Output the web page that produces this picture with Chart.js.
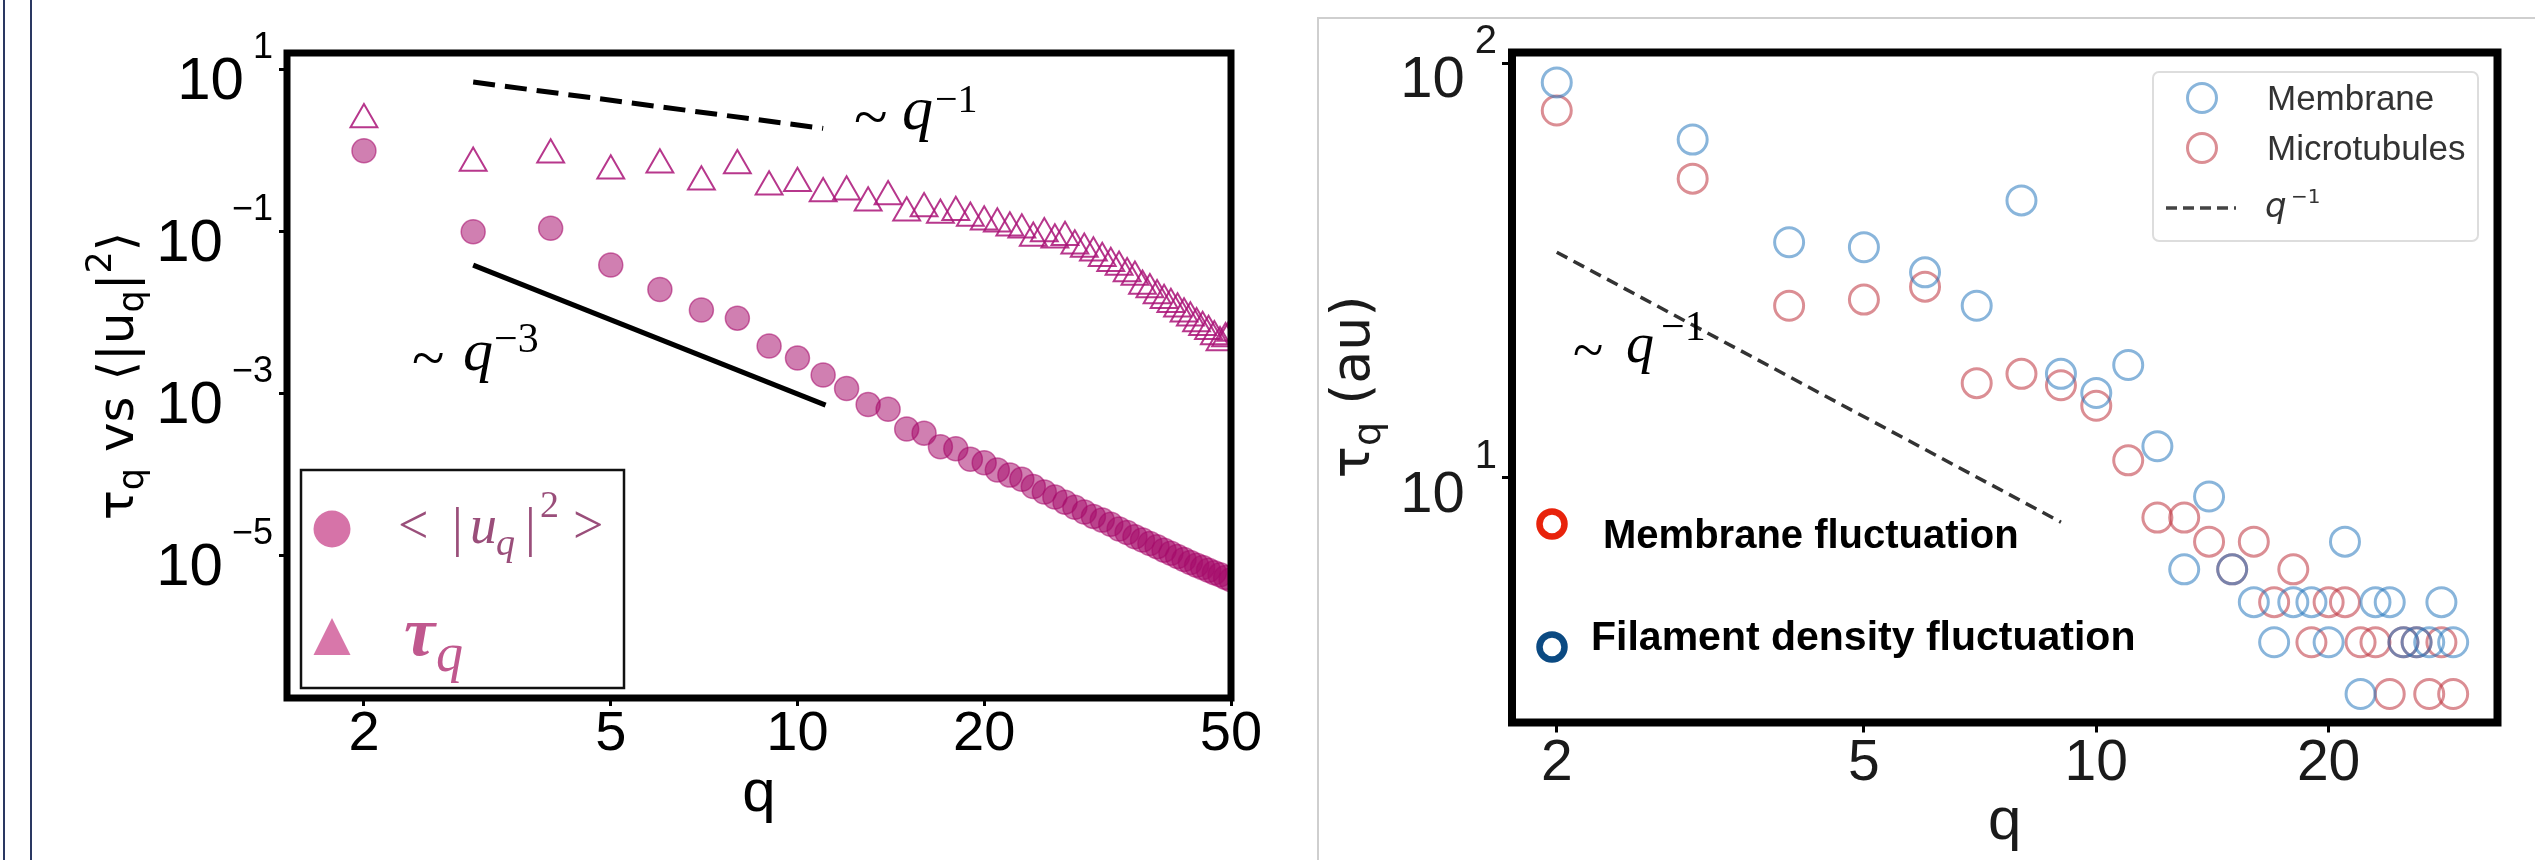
<!DOCTYPE html>
<html>
<head>
<meta charset="utf-8">
<script src="https://cdn.jsdelivr.net/npm/chart.js@4.4.1/dist/chart.umd.min.js"></script>
<style>
  html, body { margin: 0; padding: 0; background: #fff; }
  body { width: 2535px; height: 860px; position: relative; overflow: hidden; }
  canvas { position: absolute; top: 0; }
  #left { left: 0; }
  #right { left: 1290px; }
  .edge { position: absolute; top: 0; bottom: 0; width: 2px; background: #2a3862; }
  #frame { position: absolute; left: 1317px; top: 17px; right: 0; bottom: 0;
           border-left: 2px solid #cfcfcf; border-top: 2px solid #cfcfcf; }
</style>
</head>
<body>
<div class="edge" style="left:3px"></div>
<div class="edge" style="left:30px"></div>
<div id="frame"></div>
<canvas id="left" width="1290" height="860"></canvas>
<canvas id="right" width="1245" height="860"></canvas>
<script>
// ---- left panel: fluctuation spectrum and relaxation time ----
var qLeft = [2,3,4,5,6,7,8,9,10,11,12,13,14,15,16,17,18,19,20,21,22,23,24,25,26,
             27,28,29,30,31,32,33,34,35,36,37,38,39,40,41,42,43,44,45,46,47,48,49,50];
var uqSquared = [0.98, 0.098, 0.108, 0.038, 0.019, 0.0106, 0.0084, 0.0038, 0.0027, 0.00167,
                 0.00114, 0.00072, 0.00063, 0.00036, 0.00032, 0.000217, 0.000205,
                 1.52e-4, 1.38e-4, 1.12e-4, 9.7e-5, 8.6e-5, 7.0e-5, 6.0e-5, 5.2e-5, 4.5e-5, 3.9e-5,
                 3.4e-5, 3.0e-5, 2.7e-5, 2.4e-5, 2.1e-5, 1.9e-5, 1.68e-5, 1.53e-5, 1.39e-5, 1.27e-5,
                 1.15e-5, 1.05e-5, 9.6e-6, 8.8e-6, 8.1e-6, 7.5e-6, 7.0e-6, 6.5e-6, 6.05e-6, 5.7e-6,
                 5.3e-6, 4.95e-6];
var tauLeft = [2.38, 0.69, 0.875, 0.556, 0.656, 0.406, 0.645, 0.352, 0.39, 0.291,
               0.305, 0.223, 0.267, 0.168, 0.19, 0.158, 0.17,
               0.145, 0.13, 0.123, 0.11, 0.104, 0.082, 0.093, 0.078, 0.084, 0.066,
               0.060, 0.054, 0.046, 0.040, 0.036, 0.030, 0.027, 0.021, 0.019, 0.016,
               0.014, 0.0125, 0.011, 0.0095, 0.0085, 0.0072, 0.0065, 0.0058, 0.0050, 0.0042,
               0.0047, 0.0055];
var xTicksLeft = [2, 5, 10, 20, 50];
var yTicksLeft = [10, 0.1, 0.001, 0.00001];
var guideSlowLeft = {q: [3, 11], v: [6.9, 1.85]};       // ~ q^-1
var guideFastLeft = {q: [3, 11.1], v: [0.038, 0.00071]}; // ~ q^-3

// ---- right panel: tau_q for membrane and microtubules ----
var qRight = [2,3,4,5,6,7,8,9,10,11,12,13,14,15,16,17,18,19,20,21,22,23,24,25,26,27,28,29];
var tauMembrane = [90, 65.5, 37, 36, 31.3, 26, 46.7, 17.8, 16, 18.7,
                   11.9, 6, 9, 6, 5, 4, 5, 5, 4, 7,
                   3, 5, 5, 4, 4, 4, 5, 4];
var tauMicrotubules = [77, 52.7, 26, 26.9, 28.9, 16.9, 17.8, 16.7, 14.9, 11,
                       8, 8, 7, 6, 7, 5, 6, 4, 5, 5,
                       4, 4, 3, 4, 4, 3, 4, 3];
var xTicksRight = [2, 5, 10, 20];
var yTicksRight = [10, 100];
var guideRight = {q: [2, 9], v: [35, 7.8]};

var SANS = "'Liberation Sans', Arial, sans-serif";
var SERIF = "'Liberation Serif', 'Times New Roman', serif";
var DV = "'DejaVu Sans', sans-serif";

function pts(xs, ys) {
  return xs.map(function (x, i) { return {x: x, y: ys[i]}; });
}

function fixTicks(list) {
  return function (scale) { scale.ticks = list.map(function (v) { return {value: v}; }); };
}

function frame(ctx, ca, w) {
  ctx.save();
  ctx.lineWidth = w;
  ctx.strokeStyle = '#000';
  ctx.strokeRect(ca.left, ca.top, ca.right - ca.left, ca.bottom - ca.top);
  ctx.restore();
}

// "10" with a raised exponent, right aligned next to the axis
function powLabels(ctx, scale, o) {
  var left = scale.chart.chartArea.left;
  ctx.save();
  ctx.fillStyle = o.color;
  ctx.textAlign = 'right';
  ctx.textBaseline = 'alphabetic';
  scale.ticks.forEach(function (t) {
    var y = scale.getPixelForValue(t.value);
    var e = Math.round(Math.log10(t.value));
    var es = (e < 0 ? '\u2212' : '') + Math.abs(e);
    ctx.font = o.supFont;
    ctx.fillText(es, left - o.supRight, y + o.supDy);
    var w = ctx.measureText(es).width;
    ctx.font = o.baseFont;
    ctx.fillText('10', left - o.supRight - w - o.gap, y + o.baseDy);
  });
  ctx.restore();
}

// draw pieces of text one after another: [text, font, dy]
function runWidth(ctx, parts) {
  var w = 0;
  parts.forEach(function (p) { ctx.font = p[1]; w += ctx.measureText(p[0]).width; });
  return w;
}
function run(ctx, x, y, parts) {
  ctx.textAlign = 'left';
  ctx.textBaseline = 'alphabetic';
  parts.forEach(function (p) {
    ctx.font = p[1];
    ctx.fillText(p[0], x, y + (p[2] || 0));
    x += ctx.measureText(p[0]).width;
  });
}
function vertical(ctx, x, y, parts, color) {
  ctx.save();
  ctx.translate(x, y);
  ctx.rotate(-Math.PI / 2);
  ctx.fillStyle = color;
  run(ctx, -runWidth(ctx, parts) / 2, 0, parts);
  ctx.restore();
}

function tildePow(ctx, o) {
  ctx.save();
  ctx.fillStyle = '#000';
  ctx.textAlign = 'left';
  ctx.textBaseline = 'alphabetic';
  ctx.font = o.size + 'px ' + SERIF;
  ctx.fillText('~', o.tx, o.base + o.size * 0.13);
  ctx.font = 'italic ' + o.size + 'px ' + SERIF;
  ctx.fillText('q', o.qx, o.base);
  ctx.font = o.sup + 'px ' + SERIF;
  ctx.fillText(o.exp, o.sx, o.sy);
  ctx.restore();
}

var leftDecor = {
  id: 'leftDecor',
  afterDraw: function (chart) {
    var ctx = chart.ctx, ca = chart.chartArea;
    frame(ctx, ca, 7);
    powLabels(ctx, chart.scales.y, {
      color: '#000', baseFont: '60px ' + SANS, supFont: '36px ' + SANS,
      supRight: 14, gap: 9, supDy: -11, baseDy: 30
    });
    // y title
    vertical(ctx, 133, 376, [
      ['\u03c4', '50px ' + DV], ['q', '35px ' + DV, 10], [' vs \u27e8|u', '50px ' + DV],
      ['q', '35px ' + DV, 10], ['|', '50px ' + DV], ['2', '35px ' + DV, -22], ['\u27e9', '50px ' + DV]
    ], '#000');
    // slope annotations
    tildePow(ctx, {size: 62, sup: 40, tx: 854, qx: 902, base: 129, exp: '\u22121', sx: 935, sy: 112});
    tildePow(ctx, {size: 60, sup: 42, tx: 412, qx: 463, base: 370, exp: '\u22123', sx: 494, sy: 352});
    // legend
    ctx.save();
    ctx.lineWidth = 2.5;
    ctx.strokeStyle = '#111';
    ctx.strokeRect(301, 470, 323, 218);
    ctx.fillStyle = '#d673a8';
    ctx.beginPath(); ctx.arc(332, 529, 18.5, 0, Math.PI * 2); ctx.fill();
    ctx.fillStyle = '#d877aa';
    ctx.beginPath(); ctx.moveTo(332, 618); ctx.lineTo(350.5, 655); ctx.lineTo(313.5, 655); ctx.closePath(); ctx.fill();
    ctx.fillStyle = '#9a4e7a';
    ctx.textBaseline = 'alphabetic';
    ctx.textAlign = 'left';
    ctx.font = '54px ' + SERIF;
    ctx.fillText('<', 398, 543);
    ctx.fillText('|', 452, 545);
    ctx.font = 'italic 54px ' + SERIF;
    ctx.fillText('u', 470, 543);
    ctx.font = 'italic 38px ' + SERIF;
    ctx.fillText('q', 496, 555);
    ctx.font = '54px ' + SERIF;
    ctx.fillText('|', 525, 545);
    ctx.font = '38px ' + SERIF;
    ctx.fillText('2', 540, 517);
    ctx.font = '54px ' + SERIF;
    ctx.fillText('>', 573, 543);
    ctx.fillStyle = '#c0588e';
    ctx.font = 'italic bold 70px ' + SERIF;
    ctx.fillText('\u03c4', 404, 655);
    ctx.font = 'italic 54px ' + SERIF;
    ctx.fillText('q', 436, 671);
    ctx.restore();
  }
};

var OX = 1290; // left edge of the right canvas on the page
var rightDecor = {
  id: 'rightDecor',
  afterDraw: function (chart) {
    var ctx = chart.ctx, ca = chart.chartArea;
    frame(ctx, ca, 8);
    powLabels(ctx, chart.scales.y, {
      color: '#1a1a1a', baseFont: '58px ' + SANS, supFont: '40px ' + SANS,
      supRight: 15, gap: 10, supDy: -10, baseDy: 34
    });
    vertical(ctx, 1369 - OX, 387, [
      ['\u03c4', '54px ' + DV], ['q', '38px ' + DV, 11], [' (au)', '54px ' + DV]
    ], '#1a1a1a');
    tildePow(ctx, {size: 56, sup: 42, tx: 1573 - OX, qx: 1626 - OX, base: 362, exp: '\u22121', sx: 1661 - OX, sy: 340});

    // marker notes
    ctx.save();
    ctx.lineWidth = 6.5;
    ctx.strokeStyle = '#e8230c';
    ctx.beginPath(); ctx.arc(1552 - OX, 524, 12.5, 0, Math.PI * 2); ctx.stroke();
    ctx.strokeStyle = '#0b4a82';
    ctx.beginPath(); ctx.arc(1552 - OX, 647, 12.5, 0, Math.PI * 2); ctx.stroke();
    ctx.fillStyle = '#000';
    ctx.textAlign = 'left';
    ctx.textBaseline = 'alphabetic';
    ctx.font = 'bold 40px ' + SANS;
    ctx.fillText('Membrane fluctuation', 1603 - OX, 548);
    ctx.font = 'bold 41px ' + SANS;
    ctx.fillText('Filament density fluctuation', 1591 - OX, 650);
    ctx.restore();

    // legend
    ctx.save();
    var lx = 2153 - OX, ly = 72, lw = 325, lh = 169;
    ctx.fillStyle = 'rgba(255,255,255,0.85)';
    ctx.strokeStyle = '#dddddd';
    ctx.lineWidth = 2;
    ctx.beginPath();
    if (ctx.roundRect) ctx.roundRect(lx, ly, lw, lh, 6); else ctx.rect(lx, ly, lw, lh);
    ctx.fill(); ctx.stroke();
    ctx.lineWidth = 3;
    ctx.strokeStyle = 'rgba(40,120,190,0.55)';
    ctx.beginPath(); ctx.arc(2202 - OX, 98, 14.5, 0, Math.PI * 2); ctx.stroke();
    ctx.strokeStyle = 'rgba(190,50,60,0.55)';
    ctx.beginPath(); ctx.arc(2202 - OX, 148, 14.5, 0, Math.PI * 2); ctx.stroke();
    ctx.strokeStyle = '#444';
    ctx.lineWidth = 3.5;
    ctx.setLineDash([11, 6]);
    ctx.beginPath(); ctx.moveTo(2166 - OX, 208); ctx.lineTo(2236 - OX, 208); ctx.stroke();
    ctx.setLineDash([]);
    ctx.fillStyle = '#333';
    ctx.textAlign = 'left';
    ctx.textBaseline = 'alphabetic';
    ctx.font = '35px ' + SANS;
    ctx.fillText('Membrane', 2267 - OX, 110);
    ctx.fillText('Microtubules', 2267 - OX, 160);
    ctx.font = 'italic 34px ' + DV;
    ctx.fillText('q', 2265 - OX, 217);
    ctx.font = '20px ' + DV;
    ctx.fillText('\u22121', 2291 - OX, 203);
    ctx.restore();
  }
};

function tickGrid(len, w) {
  return {drawOnChartArea: false, drawTicks: true, tickLength: len, tickWidth: w, tickColor: '#000'};
}

new Chart(document.getElementById('left'), {
  type: 'scatter',
  data: {
    datasets: [
      {
        label: '<|u_q|^2>',
        data: pts(qLeft, uqSquared),
        pointStyle: 'circle',
        pointRadius: 12,
        pointBorderWidth: 1.5,
        pointBackgroundColor: 'rgba(165,10,105,0.52)',
        pointBorderColor: 'rgba(165,10,105,0.55)',
        clip: 0
      },
      {
        label: 'tau_q',
        data: pts(qLeft, tauLeft),
        pointStyle: 'triangle',
        pointRadius: 15.5,
        pointBorderWidth: 2,
        pointBackgroundColor: 'rgba(255,255,255,0)',
        pointBorderColor: 'rgba(170,20,120,0.85)',
        clip: 0
      },
      {
        label: 'q^-1',
        data: pts(guideSlowLeft.q, guideSlowLeft.v),
        showLine: true, pointRadius: 0,
        borderColor: '#000', borderWidth: 5, borderDash: [22, 10]
      },
      {
        label: 'q^-3',
        data: pts(guideFastLeft.q, guideFastLeft.v),
        showLine: true, pointRadius: 0,
        borderColor: '#000', borderWidth: 5
      }
    ]
  },
  options: {
    responsive: false,
    animation: false,
    events: [],
    layout: {padding: {left: 0, top: 53, right: 59, bottom: 0}},
    plugins: {legend: {display: false}, tooltip: {enabled: false}},
    scales: {
      x: {
        type: 'logarithmic', min: 1.503, max: 50,
        afterFit: function (s) { s.height = 162; },
        afterBuildTicks: fixTicks(xTicksLeft),
        border: {display: false},
        grid: tickGrid(8, 3),
        ticks: {
          autoSkip: false, maxRotation: 0, padding: 1, color: '#000',
          font: {family: SANS, size: 56, lineHeight: 1},
          callback: function (v) { return String(v); }
        },
        title: {display: true, text: 'q', color: '#000',
                font: {family: SANS, size: 60, lineHeight: 1}, padding: {top: 0, bottom: 36}}
      },
      y: {
        type: 'logarithmic', min: 1.72e-7, max: 15.76,
        afterFit: function (s) { s.width = 287; },
        afterBuildTicks: fixTicks(yTicksLeft),
        border: {display: false},
        grid: tickGrid(8, 3),
        ticks: {callback: function () { return ''; }}
      }
    }
  },
  plugins: [leftDecor]
});

new Chart(document.getElementById('right'), {
  type: 'scatter',
  data: {
    datasets: [
      {
        label: 'Membrane',
        data: pts(qRight, tauMembrane),
        pointStyle: 'circle',
        pointRadius: 14.5,
        pointBorderWidth: 3,
        pointBackgroundColor: 'rgba(255,255,255,0)',
        pointBorderColor: 'rgba(40,120,190,0.55)'
      },
      {
        label: 'Microtubules',
        data: pts(qRight, tauMicrotubules),
        pointStyle: 'circle',
        pointRadius: 14.5,
        pointBorderWidth: 3,
        pointBackgroundColor: 'rgba(255,255,255,0)',
        pointBorderColor: 'rgba(190,50,60,0.55)'
      },
      {
        label: 'q^-1',
        data: pts(guideRight.q, guideRight.v),
        showLine: true, pointRadius: 0,
        borderColor: '#333', borderWidth: 3.5, borderDash: [12, 7]
      }
    ]
  },
  options: {
    responsive: false,
    animation: false,
    events: [],
    layout: {padding: {left: 0, top: 52.5, right: 37.5, bottom: 0}},
    plugins: {legend: {display: false}, tooltip: {enabled: false}},
    scales: {
      x: {
        type: 'logarithmic', min: 1.75, max: 33.1,
        afterFit: function (s) { s.height = 137.5; },
        afterBuildTicks: fixTicks(xTicksRight),
        border: {display: false},
        grid: tickGrid(10, 3),
        ticks: {
          autoSkip: false, maxRotation: 0, padding: 3, color: '#1a1a1a',
          font: {family: SANS, size: 57, lineHeight: 1},
          callback: function (v) { return String(v); }
        },
        title: {display: true, text: 'q', color: '#1a1a1a',
                font: {family: SANS, size: 60, lineHeight: 1}, padding: {top: 0, bottom: 8}}
      },
      y: {
        type: 'logarithmic', min: 2.56, max: 106.3,
        afterFit: function (s) { s.width = 222; },
        afterBuildTicks: fixTicks(yTicksRight),
        border: {display: false},
        grid: tickGrid(10, 3),
        ticks: {callback: function () { return ''; }}
      }
    }
  },
  plugins: [rightDecor]
});
</script>
</body>
</html>
